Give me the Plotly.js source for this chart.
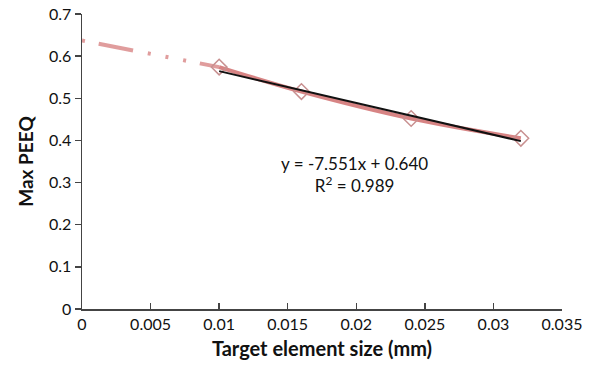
<!DOCTYPE html>
<html><head><meta charset="utf-8">
<script src="https://cdn.plot.ly/plotly-3.0.1.min.js"></script>
<style>html,body{margin:0;padding:0;background:#fff}#c{width:602px;height:373px}</style>
</head><body><div id="c"></div>
<script>
const sizes = [0.010, 0.016, 0.024, 0.032];
const peeq = [0.574, 0.516, 0.452, 0.405];
const extX = [0, 0.010];
const extY = [0.637, 0.574];
const fitX = [0.010, 0.032];
const slope = -7.551, intercept = 0.640;
const fitY = fitX.map(x => slope * x + intercept);
const xTicks = [0, 0.005, 0.01, 0.015, 0.02, 0.025, 0.03, 0.035];
const xTickText = ['0', '0.005', '0.01', '0.015', '0.02', '0.025', '0.03', '0.035'];
const yTicks = [0, 0.1, 0.2, 0.3, 0.4, 0.5, 0.6, 0.7];
const yTickText = ['0', '0.1', '0.2', '0.3', '0.4', '0.5', '0.6', '0.7'];
const eqText = 'y = -7.551x + 0.640<br>R<sup>2</sup> = 0.989';

const red = 'rgba(208,110,110,0.85)';
const traces = [
  {x: extX, y: extY, mode: 'lines', line: {color: 'rgba(218,140,140,0.85)', width: 4, dash: '3px,14px,35px,15px,3px,15px,3px,15px'}, hoverinfo: 'skip'},
  {x: sizes, y: peeq, mode: 'lines', line: {color: red, width: 4, shape: 'spline'}, hoverinfo: 'skip'},
  {x: sizes, y: peeq, mode: 'markers', marker: {symbol: 'diamond-open', size: 12, color: '#c89090', line: {width: 1.5, color: '#c08484'}}},
  {x: fitX, y: fitY, mode: 'lines', line: {color: '#111', width: 2}}
];
const font = 'Lato, "Open Sans", sans-serif';
const layout = {
  width: 602, height: 373,
  margin: {l: 82, r: 40, t: 14, b: 64},
  showlegend: false,
  paper_bgcolor: '#fff', plot_bgcolor: '#fff',
  font: {family: font, color: '#111', size: 16},
  xaxis: {range: [0, 0.035], tickvals: xTicks, ticktext: xTickText, showgrid: false, zeroline: false,
    showline: true, linecolor: '#444', linewidth: 1.5, ticks: 'inside', ticklen: 6, tickcolor: '#444', tickwidth: 1.5,
    tickfont: {size: 16, family: font, color: '#111'}, title: {text: '<b>Target element size (mm)</b>', font: {size: 20, family: font}, standoff: 10}},
  yaxis: {range: [0, 0.7], tickvals: yTicks, ticktext: yTickText, showgrid: false, zeroline: false,
    showline: true, linecolor: '#444', linewidth: 1.5, ticks: 'outside', ticklen: 6, tickcolor: '#444', tickwidth: 1.5,
    tickfont: {size: 16, family: font, color: '#111'}, title: {text: '<b>Max PEEQ</b>', font: {size: 19, family: font}, standoff: 10}},
  annotations: [{x: 0.0199, y: 0.318, xref: 'x', yref: 'y', text: eqText, showarrow: false, align: 'center',
    font: {size: 17, family: font, color: '#111'}}]
};
Plotly.newPlot('c', traces, layout, {displayModeBar: false, staticPlot: true});
</script></body></html>
